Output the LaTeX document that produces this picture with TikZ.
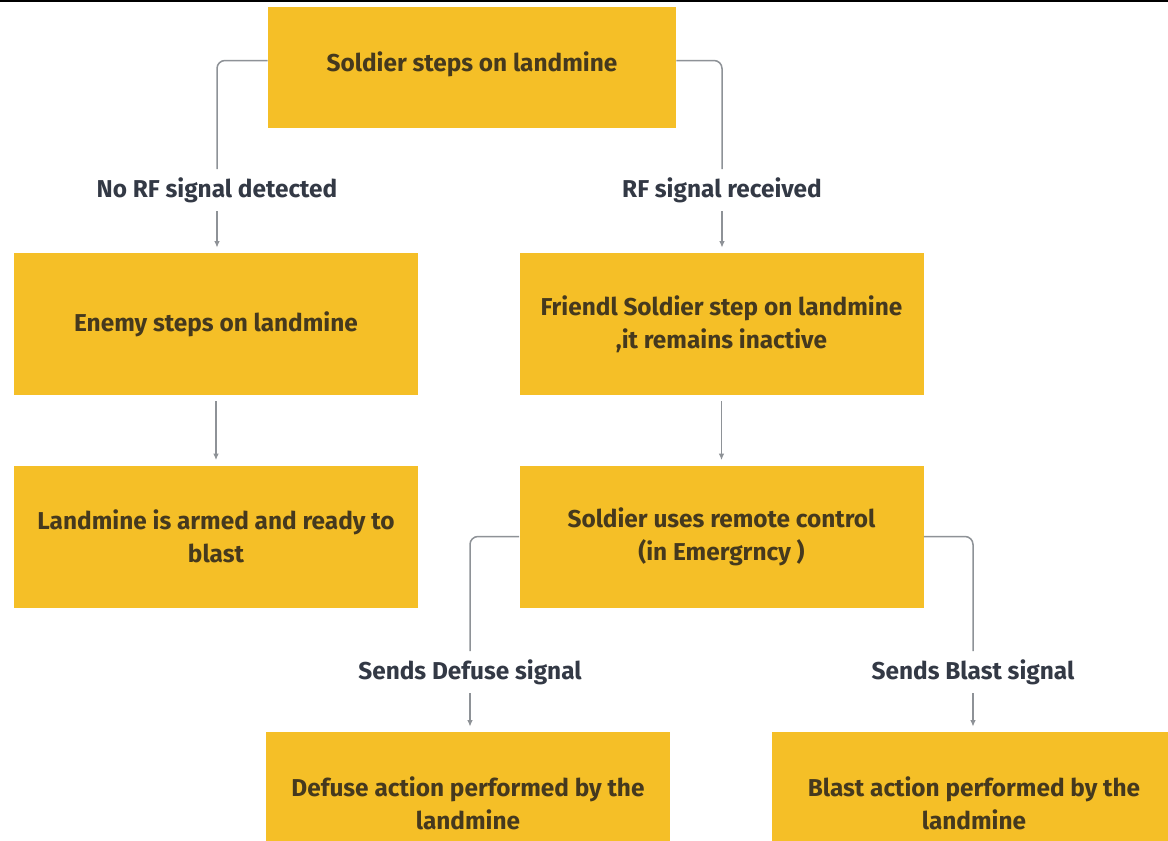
\documentclass[tikz,border=0pt]{standalone}
\usepackage{fontspec}
\setmainfont{Fira Sans}
\usepackage{xcolor}
\usetikzlibrary{arrows.meta}
\tikzset{>={Latex[length=3.2pt,width=2.8pt]}}
\definecolor{boxfill}{HTML}{F5BF27}
\definecolor{boxtext}{HTML}{45391E}
\definecolor{lbltext}{HTML}{333945}
\definecolor{conngray}{HTML}{8E9297}

\begin{document}
\begin{tikzpicture}[x=0.5pt,y=-0.5pt,
		stepbox/.style={rectangle,fill=boxfill,text=boxtext,font=\bfseries\fontsize{12.2}{16.5}\selectfont,
			minimum width=202pt,minimum height=71pt,align=center,inner sep=0pt},
		lbl/.style={text=lbltext,font=\bfseries\fontsize{12.2}{14}\selectfont,inner sep=4pt},
		conn/.style={draw=conngray,line width=0.75pt,rounded corners=4pt},
		arr/.style={conn,->,shorten >=2.5pt}]
			\useasboundingbox (0,0) rectangle (1168,841);
			\clip (0,0) rectangle (1168,841);
			\fill[white] (0,0) rectangle (1168,841);
			\draw[black,line width=1.2pt] (0,1) -- (1168,1);
			% boxes
			\node[stepbox,minimum width=204pt,minimum height=60.5pt] (top) at (472,67.5) {\raisebox{5.5pt}{Soldier steps on landmine}};
			\coordinate (topW) at ([yshift=3.5pt]top.west);
			\coordinate (topE) at ([yshift=3.5pt]top.east);
			\node[stepbox] (enemy) at (216,324) {Enemy steps on landmine};
			\node[stepbox] (friend) at (721.5,324) {Friendl Soldier step on landmine\\,it remains inactive};
			\node[stepbox] (armed) at (216,536.5) {Landmine is armed and ready to\\blast};
			\node[stepbox] (remote) at (721.5,536.5) {Soldier uses remote control\\(in Emergrncy )};
			\node[stepbox] (defuse) at (468,803) {Defuse action performed by the\\landmine};
			\node[stepbox] (blast) at (974,803) {Blast action performed by the\\landmine};
			% labels
			\node[lbl] (noRF) at (217,190) {No RF signal detected};
			\node[lbl] (RF) at (722,190) {RF signal received};
			\node[lbl] (sdefuse) at (470,672) {Sends Defuse signal};
			\node[lbl] (sblast) at (973,672) {Sends Blast signal};
			% connectors
			\draw[conn] (topW) -| (noRF.north);
			\draw[arr] (noRF.south) -- (noRF.south |- enemy.north);
			\draw[conn] (topE) -| (RF.north);
			\draw[arr] (RF.south) -- (RF.south |- friend.north);
			\draw[arr,shorten <=3pt] (enemy.south) -- (armed.north);
			\draw[arr,shorten <=3pt] (friend.south) -- (remote.north);
			\draw[conn] (remote.west) -| (sdefuse.north);
			\draw[arr] (sdefuse.south) -- (sdefuse.south |- defuse.north);
			\draw[conn] (remote.east) -| (sblast.north);
			\draw[arr] (sblast.south) -- (sblast.south |- blast.north);
		\end{tikzpicture}
\end{document}
